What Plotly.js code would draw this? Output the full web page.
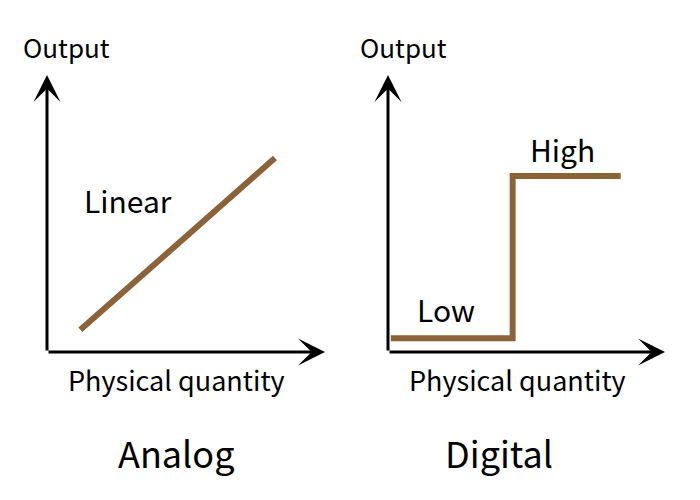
<!DOCTYPE html>
<html>
<head>
<meta charset="utf-8">
<script src="https://cdn.plot.ly/plotly-3.0.1.min.js"></script>
<style>html,body{margin:0;padding:0;background:#fff;}#chart{width:700px;height:500px;}</style>
</head>
<body>
<div id="chart"></div>
<script>
// Analog panel: linear response
const analogX = [1.2, 8.2];
const analogY = [0.8, 7.0];
// Digital panel: step response (low -> high)
const digitalX = [0.1, 4.5, 4.5, 8.4];
const digitalY = [0.5, 0.5, 6.35, 6.35];
// Texts
const panelTitles = ["Analog", "Digital"];
const axisXLabel = "Physical quantity";
const axisYLabel = "Output";
const analogLabel = "Linear";
const digitalLabels = ["Low", "High"];

const brown = "#8B6239";
const FONT = "Noto Sans CJK JP, Noto Sans, sans-serif";

const traces = [
  {x: analogX, y: analogY, xaxis: "x", yaxis: "y", mode: "lines",
   line: {color: brown, width: 6}, hoverinfo: "skip", showlegend: false},
  {x: digitalX, y: digitalY, xaxis: "x2", yaxis: "y2", mode: "lines",
   line: {color: brown, width: 6}, hoverinfo: "skip", showlegend: false}
];

const hidden = {visible: false, range: [0, 10], fixedrange: true};

function arrow(xr, yr, x, y, ax, ay) {
  return {xref: xr, yref: yr, axref: xr, ayref: yr, x: x, y: y, ax: ax, ay: ay,
    text: "", showarrow: true, arrowhead: 3, arrowsize: 1.5, arrowwidth: 3, arrowcolor: "#000"};
}
function label(xr, yr, x, y, t, size) {
  return {xref: xr, yref: yr, x: x, y: y, text: t, showarrow: false,
    font: {family: FONT, size: size, color: "#000"}, xanchor: "center", yanchor: "middle"};
}

const annotations = [
  arrow("x", "y", 0, 10, 0, 0),
  arrow("x", "y", 10, 0, 0, 0),
  arrow("x2", "y2", 0, 10, 0, 0),
  arrow("x2", "y2", 10, 0, 0, 0),
  label("paper", "paper", 66/700, 1 - 47/500, axisYLabel, 26),
  label("paper", "paper", 403/700, 1 - 47/500, axisYLabel, 26),
  label("paper", "paper", 176/700, 1 - 379/500, axisXLabel, 27),
  label("paper", "paper", 517/700, 1 - 379/500, axisXLabel, 27),
  label("paper", "paper", 176/700, 1 - 452/500, panelTitles[0], 36),
  label("paper", "paper", 499/700, 1 - 452/500, panelTitles[1], 36),
  label("x", "y", (128-47)/27.8, (352-200)/27.7, analogLabel, 30),
  label("x2", "y2", (446-388)/27.7, (352-309)/27.7, digitalLabels[0], 30),
  label("x2", "y2", (562-388)/27.7, (352-149)/27.7, digitalLabels[1], 30)
];

const layout = {
  width: 700, height: 500,
  margin: {l: 0, r: 0, t: 0, b: 0},
  paper_bgcolor: "#fff", plot_bgcolor: "rgba(0,0,0,0)",
  font: {family: FONT},
  xaxis: Object.assign({domain: [47/700, 325/700], anchor: "y"}, hidden),
  yaxis: Object.assign({domain: [1 - 352/500, 1 - 75/500], anchor: "x"}, hidden),
  xaxis2: Object.assign({domain: [388/700, 665/700], anchor: "y2"}, hidden),
  yaxis2: Object.assign({domain: [1 - 352/500, 1 - 75/500], anchor: "x2"}, hidden),
  annotations: annotations,
  showlegend: false
};

Plotly.newPlot("chart", traces, layout, {staticPlot: true, displayModeBar: false});
</script>
</body>
</html>
